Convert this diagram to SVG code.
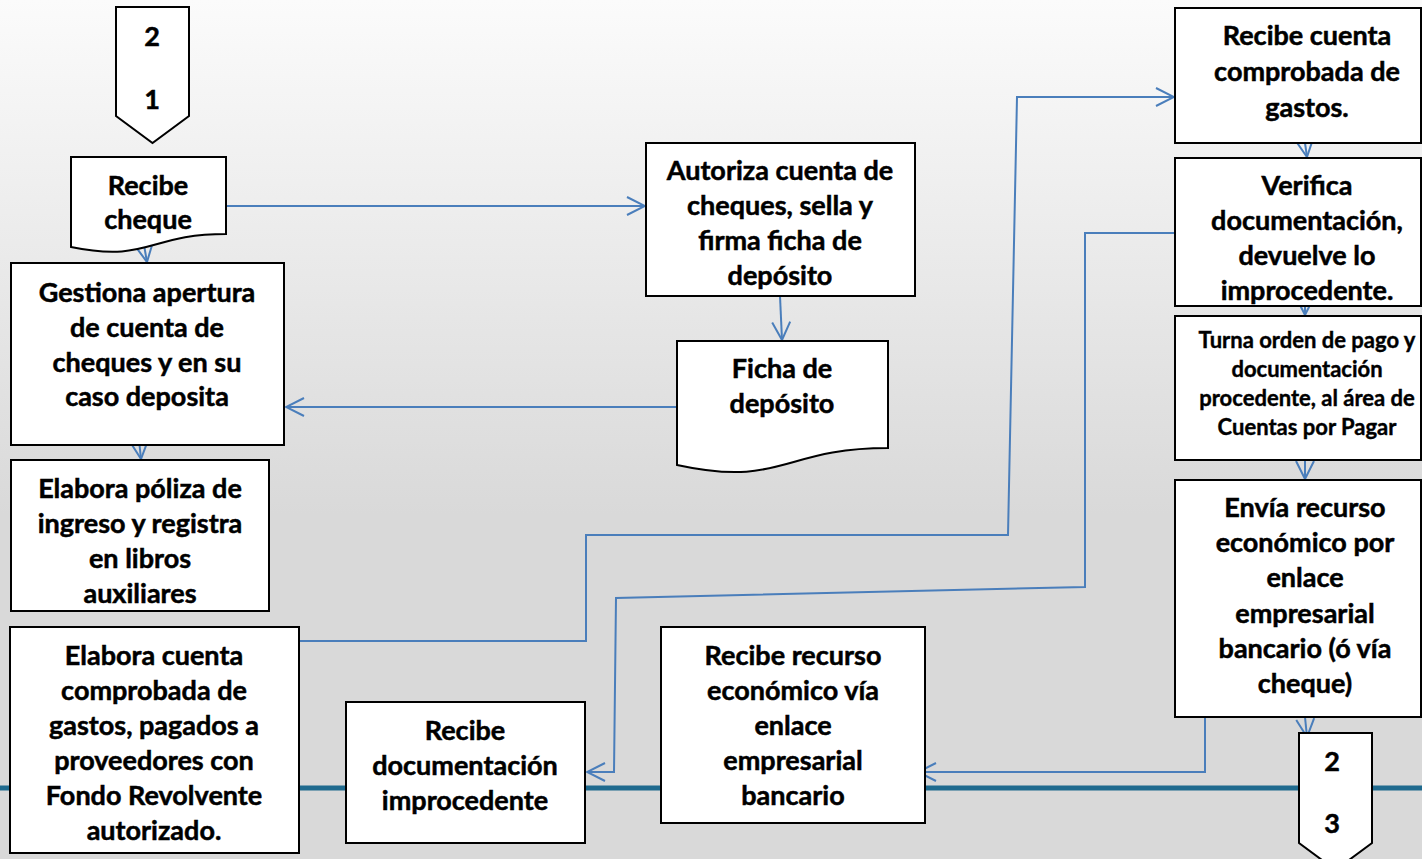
<svg xmlns="http://www.w3.org/2000/svg" width="1422" height="859" viewBox="0 0 1422 859">
<defs>
  <linearGradient id="bg" x1="0" y1="0" x2="0" y2="1">
    <stop offset="0" stop-color="#fbfbfb"/>
    <stop offset="0.6" stop-color="#d9d9d9"/>
    <stop offset="1" stop-color="#d9d9d9"/>
  </linearGradient>
  <marker id="arr" viewBox="0 0 20 20" refX="19" refY="10" markerWidth="20" markerHeight="20" markerUnits="userSpaceOnUse" orient="auto">
    <path d="M1,1 L19,10 L1,19" fill="none" stroke="#4a7ebb" stroke-width="2"/>
  </marker>
  <style>
    .box{fill:#fff;stroke:#000;stroke-width:2}
    .t{font-family:Lato,"Liberation Sans",sans-serif;font-weight:bold;font-size:27px;fill:#000;stroke:#000;stroke-width:0.5;text-anchor:middle}
    .s{font-size:22px;stroke-width:0.4}
    .c{fill:none;stroke:#4a7ebb;stroke-width:2}
  </style>
</defs>
<rect x="0" y="0" width="1422" height="859" fill="url(#bg)"/>
<g id="band">
  <line x1="0" y1="788" x2="1422" y2="788" stroke="#1f6a8e" stroke-width="5"/>
</g>

<g id="connectors">
  <path class="c" d="M226,206 H645" marker-end="url(#arr)"/>
  <path class="c" d="M141,228 L147,262" marker-end="url(#arr)"/>
  <path class="c" d="M780,296 L782,340" marker-end="url(#arr)"/>
  <path class="c" d="M677,407 H286" marker-end="url(#arr)"/>
  <path class="c" d="M139,440 L141,459" marker-end="url(#arr)"/>
  <path class="c" d="M299,641 H586 V535 H1008 L1017,97 H1174" marker-end="url(#arr)"/>
  <path class="c" d="M1175,233 H1085 V587 L616,598 L614,772 H587" marker-end="url(#arr)"/>
  <path class="c" d="M1305,143 L1307,157" marker-end="url(#arr)"/>
  <path class="c" d="M1305,290 L1305,315" marker-end="url(#arr)"/>
  <path class="c" d="M1305,460 L1305,479" marker-end="url(#arr)"/>
  <path class="c" d="M1305,717 L1307,737" marker-end="url(#arr)"/>
  <path class="c" d="M1205,717 V772 H918" marker-end="url(#arr)"/>
</g>

<g id="conn21">
  <path class="box" d="M116,7 H189 V116 L152.5,143 L116,116 Z"/>
  <text class="t" x="152" y="46">2</text>
  <text class="t" x="152" y="109">1</text>
</g>

<g id="recibe-cheque">
  <path class="box" d="M71,157 H226 V234 C148.5,234 148.5,263 71,247 Z"/>
  <text class="t" x="148" y="195">Recibe</text>
  <text class="t" x="148" y="229">cheque</text>
</g>

<g id="gestiona">
  <rect class="box" x="11" y="263" width="273" height="182"/>
  <text class="t" x="147" y="302">Gestiona apertura</text>
  <text class="t" x="147" y="337">de cuenta de</text>
  <text class="t" x="147" y="372">cheques y en su</text>
  <text class="t" x="147" y="406">caso deposita</text>
</g>

<g id="elabora-poliza">
  <rect class="box" x="11" y="460" width="258" height="151"/>
  <text class="t" x="140" y="498">Elabora póliza de</text>
  <text class="t" x="140" y="533">ingreso y registra</text>
  <text class="t" x="140" y="568">en libros</text>
  <text class="t" x="140" y="603">auxiliares</text>
</g>

<g id="elabora-cuenta">
  <rect class="box" x="10" y="627" width="289" height="226"/>
  <text class="t" x="154" y="665">Elabora cuenta</text>
  <text class="t" x="154" y="700">comprobada de</text>
  <text class="t" x="154" y="735">gastos, pagados a</text>
  <text class="t" x="154" y="770">proveedores con</text>
  <text class="t" x="154" y="805">Fondo Revolvente</text>
  <text class="t" x="154" y="840">autorizado.</text>
</g>

<g id="recibe-doc">
  <rect class="box" x="346" y="702" width="239" height="141"/>
  <text class="t" x="465" y="740">Recibe</text>
  <text class="t" x="465" y="775">documentación</text>
  <text class="t" x="465" y="810">improcedente</text>
</g>

<g id="recibe-recurso">
  <rect class="box" x="661" y="627" width="264" height="196"/>
  <text class="t" x="793" y="665">Recibe recurso</text>
  <text class="t" x="793" y="700">económico vía</text>
  <text class="t" x="793" y="735">enlace</text>
  <text class="t" x="793" y="770">empresarial</text>
  <text class="t" x="793" y="805">bancario</text>
</g>

<g id="autoriza">
  <rect class="box" x="646" y="143" width="269" height="153"/>
  <text class="t" x="780" y="180">Autoriza cuenta de</text>
  <text class="t" x="780" y="215">cheques, sella y</text>
  <text class="t" x="780" y="250">firma ficha de</text>
  <text class="t" x="780" y="285">depósito</text>
</g>

<g id="ficha">
  <path class="box" d="M677,341 H888 V448 C782.5,448 782.5,488 677,465 Z"/>
  <text class="t" x="782" y="378">Ficha de</text>
  <text class="t" x="782" y="413">depósito</text>
</g>

<g id="recibe-cuenta">
  <rect class="box" x="1175" y="8" width="246" height="135"/>
  <text class="t" x="1307" y="45">Recibe cuenta</text>
  <text class="t" x="1307" y="81">comprobada de</text>
  <text class="t" x="1307" y="117">gastos.</text>
</g>

<g id="verifica">
  <rect class="box" x="1175" y="158" width="246" height="148"/>
  <text class="t" x="1307" y="195">Verifica</text>
  <text class="t" x="1307" y="230">documentación,</text>
  <text class="t" x="1307" y="265">devuelve lo</text>
  <text class="t" x="1307" y="300">improcedente.</text>
</g>

<g id="turna">
  <rect class="box" x="1175" y="316" width="246" height="144"/>
  <text class="t s" x="1307" y="348">Turna orden de pago y</text>
  <text class="t s" x="1307" y="377">documentación</text>
  <text class="t s" x="1307" y="406">procedente, al área de</text>
  <text class="t s" x="1307" y="435">Cuentas por Pagar</text>
</g>

<g id="envia">
  <rect class="box" x="1175" y="480" width="246" height="237"/>
  <text class="t" x="1305" y="517">Envía recurso</text>
  <text class="t" x="1305" y="552">económico por</text>
  <text class="t" x="1305" y="587">enlace</text>
  <text class="t" x="1305" y="623">empresarial</text>
  <text class="t" x="1305" y="658">bancario (ó vía</text>
  <text class="t" x="1305" y="693">cheque)</text>
</g>

<g id="conn23">
  <path class="box" d="M1299,733 H1372 V843 L1335.5,870 L1299,843 Z"/>
  <text class="t" x="1332" y="771">2</text>
  <text class="t" x="1332" y="833">3</text>
</g>
</svg>
